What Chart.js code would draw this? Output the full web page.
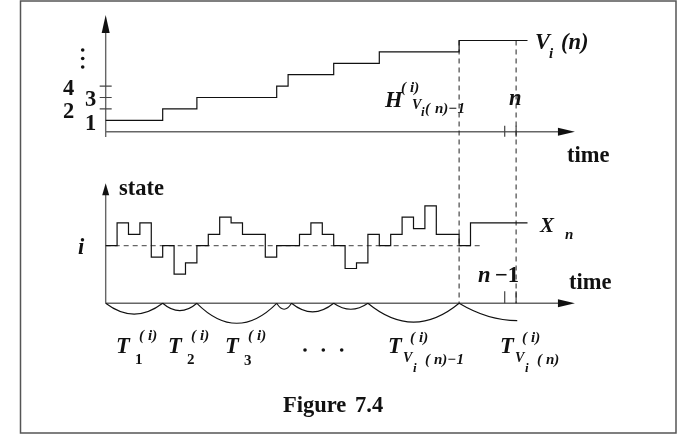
<!DOCTYPE html>
<html>
<head>
<meta charset="utf-8">
<script src="https://cdn.jsdelivr.net/npm/chart.js@4"></script>
<style>
  body { margin: 0; background: #fff; }
  #fig { display: block; }
</style>
</head>
<body>
<canvas id="fig" width="700" height="435"></canvas>
<script>
// upper panel: V_i(n), number of visits to state i up to time n
const vTimes = [0, 5, 8, 15, 16, 20, 24, 31, 37];
const vCounts = [1, 2, 3, 4, 5, 6, 7, 8, 8];
const vTickLabels = ['1', '2', '3', '4'];

// lower panel: X_n, offset from state i (half steps)
const xTimes = [0, 1, 2, 3, 4, 5, 6, 7, 8, 9, 10, 11, 12, 14, 15, 17, 18, 19, 20, 21, 22, 23, 24, 25, 26, 27, 28, 29, 31, 32, 37];
const xStates = [0, 4, 2, 4, -2, 0, -5, -3, 0, 2, 5, 4, 2, -2, 0, 2, 4, 2, 0, -4, -3, 2, 0, 2, 5, 3, 7, 2, 0, 4, 4];
const baseEnd = 33;

// renewal cycles T_k under the lower time axis
const arcEnds = [0, 5, 8, 15, 16.3, 20, 23, 31];
const arcDepths = [1.9, 1.3, 3.5, 1.05, 1.5, 1.05, 3.3];

// dashed guides at H_{V_i(n)-1} and n, ticks at n-1 and n
const guideTimes = [31, 36];
const tickTimes = [35, 36];

const AXIS_END = 41.16;
const LOW_AXIS = -10.1;
const FONT = '"Liberation Serif", "Times New Roman", serif';
const BIG = 22.5, SMALL = 15;

function font(size, italic) {
    return (italic ? 'italic ' : '') + 'bold ' + size + 'px ' + FONT;
}

function arrow(ctx, x, y, dir, len, hw) {
    ctx.beginPath();
    if (dir === 'up') {
        ctx.moveTo(x, y);
        ctx.lineTo(x - hw, y + len);
        ctx.lineTo(x + hw, y + len);
    } else {
        ctx.moveTo(x, y);
        ctx.lineTo(x - len, y - hw);
        ctx.lineTo(x - len, y + hw);
    }
    ctx.closePath();
    ctx.fill();
}

const diagram = {
    id: 'diagram',
    beforeDatasetsDraw(chart) {
        const ctx = chart.ctx;
        const sx = chart.scales.x, sv = chart.scales.yV, ss = chart.scales.yX;
        const x0 = sx.getPixelForValue(0), xe = sx.getPixelForValue(AXIS_END);
        ctx.save();

        // frame
        ctx.strokeStyle = '#555';
        ctx.lineWidth = 1.5;
        ctx.strokeRect(20.5, 1, 655.5, 432);

        // axes
        ctx.strokeStyle = '#666';
        ctx.fillStyle = '#111';
        ctx.lineWidth = 1.4;
        const yu = sv.getPixelForValue(0);
        const yl = ss.getPixelForValue(LOW_AXIS);
        ctx.beginPath();
        ctx.moveTo(x0, yu); ctx.lineTo(xe - 10, yu);
        ctx.moveTo(x0, sv.getPixelForValue(-0.46)); ctx.lineTo(x0, sv.getPixelForValue(10.24) + 10);
        ctx.moveTo(x0, yl); ctx.lineTo(xe - 10, yl);
        ctx.moveTo(x0, yl); ctx.lineTo(x0, ss.getPixelForValue(10.95) + 8);
        ctx.stroke();
        arrow(ctx, xe, yu, 'right', 17, 4);
        arrow(ctx, xe, yl, 'right', 17, 4);
        arrow(ctx, x0, sv.getPixelForValue(10.24), 'up', 18, 4);
        arrow(ctx, x0, ss.getPixelForValue(10.95), 'up', 12, 3.5);

        // ticks
        ctx.lineWidth = 1.2;
        ctx.strokeStyle = '#444';
        ctx.beginPath();
        [2, 3, 4].forEach(v => {
            const y = sv.getPixelForValue(v);
            ctx.moveTo(x0 - 6, y); ctx.lineTo(x0 + 6, y);
        });
        tickTimes.forEach(t => {
            const x = sx.getPixelForValue(t);
            ctx.moveTo(x, yu - 6); ctx.lineTo(x, yu + 5);
            ctx.moveTo(x, yl - 12); ctx.lineTo(x, yl);
        });
        ctx.stroke();

        // dashed guides
        ctx.setLineDash([5, 4]);
        ctx.strokeStyle = '#222';
        ctx.lineWidth = 1;
        ctx.beginPath();
        guideTimes.forEach(t => {
            const x = sx.getPixelForValue(t);
            ctx.moveTo(x, sv.getPixelForValue(8));
            ctx.lineTo(x, yl);
        });
        ctx.stroke();
        ctx.setLineDash([]);

        // renewal arcs
        ctx.strokeStyle = '#111';
        ctx.lineWidth = 1.1;
        ctx.beginPath();
        for (let k = 0; k < arcDepths.length; k++) {
            const a = sx.getPixelForValue(arcEnds[k]);
            const b = sx.getPixelForValue(arcEnds[k + 1]);
            const c = ss.getPixelForValue(LOW_AXIS - 2 * arcDepths[k]);
            ctx.moveTo(a, yl);
            ctx.quadraticCurveTo((a + b) / 2, c, b, yl);
        }
        // last, unfinished cycle
        const a = sx.getPixelForValue(arcEnds[arcEnds.length - 1]);
        const b = sx.getPixelForValue(36.1);
        const c = ss.getPixelForValue(LOW_AXIS - 3.05);
        ctx.moveTo(a, yl);
        ctx.quadraticCurveTo((a + b) / 2, c, b, c);
        ctx.stroke();
        ctx.restore();
    },
    afterDraw(chart) {
        const ctx = chart.ctx;
        ctx.save();
        ctx.fillStyle = '#111';
        ctx.textBaseline = 'alphabetic';
        const txt = (s, x, y, size, italic) => {
            ctx.font = font(size, italic);
            ctx.fillText(s, x, y);
        };

        // upper axis labels
        txt(vTickLabels[0], 85, 129.5, BIG);
        txt(vTickLabels[1], 63, 117.5, BIG);
        txt(vTickLabels[2], 85, 106, BIG);
        txt(vTickLabels[3], 63, 94.5, BIG);
        [50, 58.5, 67].forEach(y => {
            ctx.beginPath(); ctx.arc(82.7, y, 1.8, 0, Math.PI * 2); ctx.fill();
        });
        txt('time', 567, 161.5, BIG);
        txt('V', 535, 48.5, BIG, true);
        txt('i', 549, 58, SMALL, true);
        txt('(n)', 561, 48.5, BIG, true);
        txt('n', 509, 105, BIG, true);
        txt('H', 385, 106.5, BIG, true);
        txt('(', 401, 91.5, SMALL, true);
        txt('i)', 410, 91.5, SMALL, true);
        txt('V', 412, 108.5, 14, true);
        txt('i', 421, 116, 13, true);
        txt('(', 425, 113, SMALL, true);
        txt('n)\u22121', 435, 113, SMALL, true);

        // lower axis labels
        txt('state', 119, 195, BIG);
        txt('i', 78, 254, BIG, true);
        txt('X', 540, 231.5, 21, true);
        txt('n', 565, 238.5, SMALL, true);
        txt('n', 478, 281.5, BIG, true);
        txt('\u22121', 495, 281.5, BIG);
        txt('time', 569, 288.5, BIG);

        // cycle labels
        const tLabel = (x, sub, subY) => {
            txt('T', x, 353, BIG, true);
            txt(sub, x + 19, subY, SMALL);
            txt('(', x + 23, 340, SMALL, true);
            txt('i)', x + 32, 340, SMALL, true);
        };
        tLabel(116, '1', 363.5);
        tLabel(168, '2', 363.5);
        tLabel(225, '3', 365);
        [305, 323.3, 341.7].forEach(x => {
            ctx.beginPath(); ctx.arc(x, 350, 1.8, 0, Math.PI * 2); ctx.fill();
        });
        const tvLabel = (x, tail) => {
            txt('T', x, 352.5, BIG, true);
            txt('(', x + 22, 341.5, SMALL, true);
            txt('i)', x + 31, 341.5, SMALL, true);
            txt('V', x + 15, 361.5, 14, true);
            txt('i', x + 25, 371.5, 13, true);
            txt('(', x + 37, 364, SMALL, true);
            txt(tail, x + 46, 364, SMALL, true);
        };
        tvLabel(388, 'n)\u22121');
        tvLabel(500, 'n)');

        txt('Figure', 283, 411.5, BIG);
        txt('7.4', 355, 411.5, BIG);
        ctx.restore();
    }
};

new Chart(document.getElementById('fig'), {
    type: 'line',
    data: {
        datasets: [{
            data: vTimes.map((t, k) => ({ x: t, y: vCounts[k] })),
            yAxisID: 'yV',
            stepped: 'before',
            borderColor: '#111',
            borderWidth: 1.2,
            pointRadius: 0
        }, {
            data: xTimes.map((t, k) => ({ x: t, y: xStates[k] })),
            yAxisID: 'yX',
            stepped: 'before',
            borderColor: '#111',
            borderWidth: 1.2,
            pointRadius: 0
        }, {
            data: [{ x: 0, y: 0 }, { x: baseEnd, y: 0 }],
            yAxisID: 'yX',
            borderColor: '#666',
            borderWidth: 1.2,
            borderDash: [5, 4],
            pointRadius: 0
        }]
    },
    options: {
        responsive: false,
        animation: false,
        devicePixelRatio: 1,
        layout: { padding: 0 },
        plugins: { legend: { display: false }, tooltip: { enabled: false } },
        scales: {
            x: { type: 'linear', display: false, min: -9.27, max: 52.13 },
            yV: { type: 'linear', display: false, min: -26.61, max: 11.553 },
            yX: { type: 'linear', display: false, min: -33.21, max: 43.105 }
        }
    },
    plugins: [diagram]
});
</script>
</body>
</html>
